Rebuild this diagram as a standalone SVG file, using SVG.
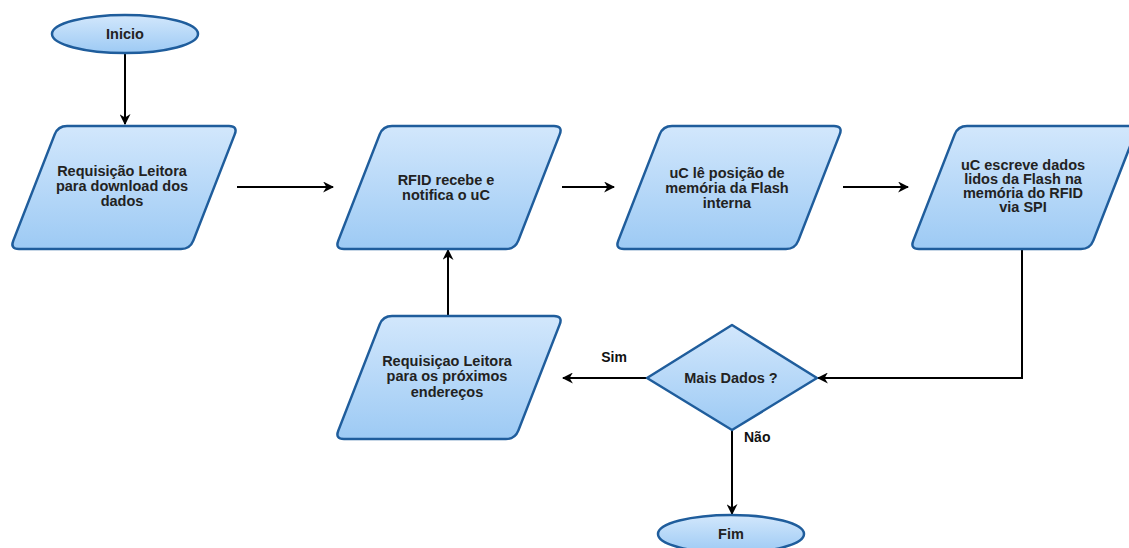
<svg xmlns="http://www.w3.org/2000/svg" width="1129" height="548" viewBox="0 0 1129 548">
<style>
.shape{fill:url(#g);stroke:#1f5d9c;stroke-width:2.5}
.t{font-family:"Liberation Sans",Arial,sans-serif;font-weight:bold;font-size:14.5px;fill:#222;text-anchor:middle}
.c{fill:none;stroke:#000;stroke-width:2;marker-end:url(#arr)}
.lbl{font-family:"Liberation Sans",Arial,sans-serif;font-weight:bold;font-size:14px;fill:#111}
</style>
<defs>
<linearGradient id="g" x1="0" y1="0" x2="0" y2="1">
<stop offset="0" stop-color="#d2e7fc"/>
<stop offset="1" stop-color="#9dcaf4"/>
</linearGradient>
<marker id="arr" viewBox="0 0 10 10" refX="9" refY="5" markerWidth="11" markerHeight="11" markerUnits="userSpaceOnUse" orient="auto">
<path d="M0,0 L10,5 L0,10 L3,5 Z" fill="#000"/>
</marker>
<path id="para" d="M57,0 L219,0 Q228,0 224.7,8.4 L183.3,114.6 Q180,123 171,123 L9,123 Q0,123 3.3,114.6 L44.7,8.4 Q48,0 57,0 Z"/>
</defs>
<rect width="1129" height="548" fill="#fff"/>

<g id="connectors">
<line class="c" x1="125" y1="53" x2="125" y2="124"/>
<line class="c" x1="237" y1="187" x2="333" y2="187"/>
<line class="c" x1="562" y1="187" x2="614" y2="187"/>
<line class="c" x1="843" y1="187" x2="908" y2="187"/>
<polyline class="c" points="1022,249 1022,378 818,378"/>
<line class="c" x1="647" y1="378" x2="563" y2="378"/>
<line class="c" x1="448" y1="316" x2="448" y2="250"/>
<line class="c" x1="732" y1="430" x2="732" y2="514"/>
<text class="lbl" x="614" y="362" text-anchor="middle">Sim</text>
<text class="lbl" x="744" y="442">Não</text>
</g>

<g id="inicio">
<ellipse class="shape" cx="125" cy="34" rx="73" ry="19"/>
<text class="t" x="125" y="39">Inicio</text>
</g>

<g id="req-leitora">
<use href="#para" class="shape" transform="translate(10,126)"/>
<text class="t" x="122" y="176">Requisição Leitora</text>
<text class="t" x="122" y="191">para download dos</text>
<text class="t" x="122" y="206">dados</text>
</g>

<g id="rfid-recebe">
<use href="#para" class="shape" transform="translate(335,126)"/>
<text class="t" x="446" y="185">RFID recebe e</text>
<text class="t" x="446" y="200">notifica o uC</text>
</g>

<g id="uc-le">
<use href="#para" class="shape" transform="translate(615,126)"/>
<text class="t" x="727" y="178">uC lê posição de</text>
<text class="t" x="727" y="193">memória da Flash</text>
<text class="t" x="727" y="208">interna</text>
</g>

<g id="uc-escreve">
<use href="#para" class="shape" transform="translate(910,126)"/>
<text class="t" x="1023" y="170">uC escreve dados</text>
<text class="t" x="1023" y="184">lidos da Flash na</text>
<text class="t" x="1023" y="198">memória do RFID</text>
<text class="t" x="1023" y="212">via SPI</text>
</g>

<g id="req-proximos">
<use href="#para" class="shape" transform="translate(335,316)"/>
<text class="t" x="447" y="366">Requisiçao Leitora</text>
<text class="t" x="447" y="381">para os próximos</text>
<text class="t" x="447" y="397">endereços</text>
</g>

<g id="mais-dados">
<polygon class="shape" points="732,325 817,378 732,430 647,378" stroke-linejoin="round"/>
<text class="t" x="731" y="383">Mais Dados ?</text>
</g>

<g id="fim">
<ellipse class="shape" cx="731" cy="534" rx="73" ry="19"/>
<text class="t" x="731" y="539">Fim</text>
</g>
</svg>
